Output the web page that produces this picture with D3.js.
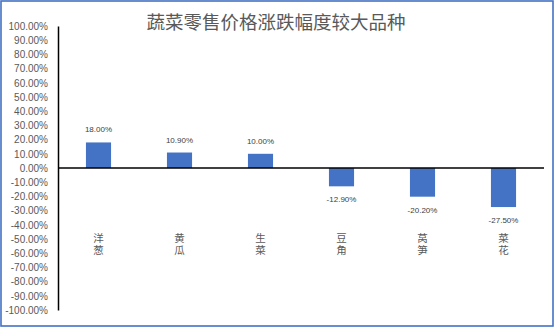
<!DOCTYPE html>
<html><head><meta charset="utf-8">
<script src="https://cdn.jsdelivr.net/npm/d3@7/dist/d3.min.js"></script>
<style>
html,body{margin:0;padding:0;background:#fff;}
svg{display:block;}
</style></head>
<body>
<svg id="chart" width="554" height="327"></svg>
<script>
const title = "蔬菜零售价格涨跌幅度较大品种";
const categories = ["洋葱", "黄瓜", "生菜", "豆角", "莴笋", "菜花"];
const values = [18.0, 10.9, 10.0, -12.9, -20.2, -27.5];
const yTicks = [100, 90, 80, 70, 60, 50, 40, 30, 20, 10, 0, -10, -20, -30, -40, -50, -60, -70, -80, -90, -100];

const svg = d3.select("#chart");
const W = 554, H = 327;
const plot = {left: 58, right: 544, top: 26, bottom: 310};

svg.append("rect").attr("x", 1).attr("y", 1).attr("width", W - 2).attr("height", H - 2)
  .attr("fill", "#fff").attr("stroke", "#4472C4").attr("stroke-width", 1.6);

svg.append("text").attr("x", 276).attr("y", 29).attr("text-anchor", "middle")
  .attr("font-family", "'Noto Sans CJK SC', sans-serif").attr("font-size", 18.5)
  .attr("fill", "#595959").text(title);

const x = d3.scaleBand().domain(categories).range([plot.left, plot.right])
  .paddingInner(0.69).paddingOuter(0.345);
const y = d3.scaleLinear().domain([-100, 100]).range([plot.bottom, plot.top]);

const fmt = v => (v < 0 ? "-" : "") + d3.format(".2f")(Math.abs(v)) + "%";

// y axis
const yAxis = d3.axisLeft(y).tickValues(yTicks).tickSize(0).tickPadding(10).tickFormat(fmt);
const ga = svg.append("g").attr("transform", `translate(${plot.left},0)`).call(yAxis);
ga.select(".domain").attr("stroke", "#000").attr("stroke-width", 1.5);
ga.selectAll("text").attr("font-family", "'Liberation Sans', Arial, sans-serif")
  .attr("font-size", 10).attr("fill", "#595959");

// bars
svg.append("g").selectAll("rect").data(values).join("rect")
  .attr("x", (d, i) => x(categories[i]))
  .attr("width", x.bandwidth())
  .attr("y", d => y(Math.max(0, d)))
  .attr("height", d => Math.abs(y(d) - y(0)))
  .attr("fill", "#4472C4");

// zero line
svg.append("line").attr("x1", plot.left).attr("x2", plot.right)
  .attr("y1", y(0)).attr("y2", y(0)).attr("stroke", "#000").attr("stroke-width", 1.5);

// value labels
svg.append("g").selectAll("text").data(values).join("text")
  .attr("x", (d, i) => x(categories[i]) + x.bandwidth() / 2)
  .attr("y", d => d >= 0 ? y(d) - 10 : y(d) + 16)
  .attr("text-anchor", "middle")
  .attr("font-family", "'Liberation Sans', Arial, sans-serif")
  .attr("font-size", 8).attr("fill", "#404040")
  .text(d => fmt(d));

// category labels (vertical text)
svg.append("g").selectAll("text").data(categories).join("text")
  .attr("x", d => x(d) + x.bandwidth() / 2)
  .attr("y", 233)
  .style("writing-mode", "vertical-rl")
  .attr("text-anchor", "start")
  .attr("letter-spacing", 1)
  .attr("font-family", "'Noto Sans CJK SC', sans-serif")
  .attr("font-size", 10.5).attr("fill", "#595959")
  .text(d => d);
</script>
</body></html>
